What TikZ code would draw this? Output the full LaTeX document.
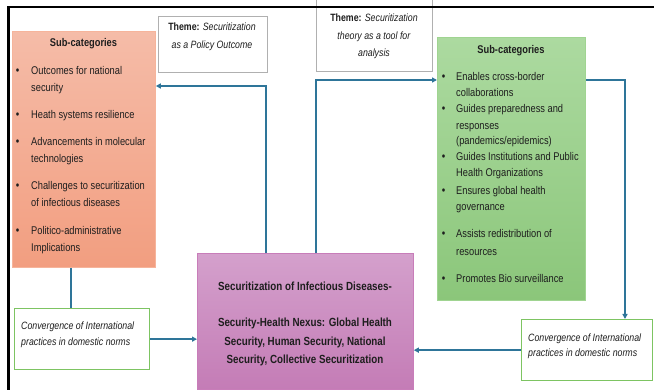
\documentclass[tikz,border=0pt]{standalone}
\usepackage{fontspec}
\setmainfont{Liberation Sans}[FakeStretch=0.83]
\usetikzlibrary{arrows.meta}
\definecolor{linkc}{RGB}{46,117,153}
\definecolor{orT}{RGB}{245,188,168}
\definecolor{orB}{RGB}{242,158,128}
\definecolor{orD}{RGB}{246,180,155}
\definecolor{grT}{RGB}{172,218,160}
\definecolor{grB}{RGB}{139,198,122}
\definecolor{grD}{RGB}{160,212,145}
\definecolor{puT}{RGB}{212,160,204}
\definecolor{puB}{RGB}{196,124,182}
\definecolor{puD}{RGB}{200,125,185}
\definecolor{cvD}{RGB}{125,196,98}
\definecolor{thD}{RGB}{176,176,176}
\definecolor{txt}{RGB}{30,30,30}
\tikzset{
  boxbase/.style={rectangle, anchor=north west, inner sep=0pt},
  orbox/.style={boxbase, draw=orD, line width=0.8pt, top color=orT, bottom color=orB},
  grbox/.style={boxbase, draw=grD, line width=0.8pt, top color=grT, bottom color=grB},
  pubox/.style={boxbase, draw=puD, line width=0.8pt, top color=puT, bottom color=puB},
  cvbox/.style={boxbase, draw=cvD, line width=1.3pt, fill=white},
  thbox/.style={boxbase, draw=thD, line width=1.2pt, fill=white},
  tx/.style={inner sep=0pt, anchor=base west, text=txt, font=\fontsize{11.2}{13}\selectfont},
  ttl/.style={inner sep=0pt, anchor=base, text=txt, font=\fontsize{11.2}{13}\selectfont\bfseries},
  bul/.style={inner sep=0pt, anchor=base, text=txt, font=\fontsize{12}{14}\selectfont},
  thx/.style={inner sep=0pt, anchor=base, text=txt, font=\fontsize{10.6}{12}\selectfont},
  cvx/.style={inner sep=0pt, anchor=base west, text=txt, font=\fontsize{10.6}{12}\selectfont\itshape},
  pux/.style={inner sep=0pt, anchor=base, text=txt, font=\fontsize{11.8}{14}\selectfont\bfseries},
  link/.style={draw=linkc, line width=1.5pt},
  arr/.style={link, -{Triangle[length=5pt,width=5pt]}}
}
\begin{document}
\begin{tikzpicture}[x=1pt,y=-1pt]
\useasboundingbox (0,0) rectangle (654,390);
\fill[white] (0,0) rectangle (654,390);

% boxes
\node[thbox, minimum width=109pt, minimum height=56pt] (th1) at (158,16) {};
\node[thbox, minimum width=116pt, minimum height=76pt] (th2) at (316,-5) {};
\node[orbox, minimum width=143pt, minimum height=236pt] (orange) at (12,31) {};
\node[grbox, minimum width=148pt, minimum height=263pt] (green) at (437,37) {};
\node[pubox, minimum width=216pt, minimum height=136pt] (purple) at (197,253) {};
\node[cvbox, minimum width=135pt, minimum height=61pt] (conv1) at (14,308) {};
\node[cvbox, minimum width=131pt, minimum height=61pt] (conv2) at (521,319) {};

% frame
\draw[black, line width=2.5pt] (8.5,390) -- (8.5,7) -- (654,7);

% theme texts
\node[thx] (th1a) at (212,31) {\textbf{Theme:} \textit{Securitization}};
\node[thx] (th1b) at (212,49) {\textit{as a Policy Outcome}};
\node[thx] (th2a) at (374,22) {\textbf{Theme:} \textit{Securitization}};
\node[thx] (th2b) at (374,40) {\textit{theory as a tool for}};
\node[thx] (th2c) at (374,57) {\textit{analysis}};

% orange texts
\node[ttl] (ot) at (83.5,47) {Sub-categories};
\foreach \yy/\tt [count=\i] in {75/{Outcomes for national},92/{security},119/{Heath systems resilience},146/{Advancements in molecular},163/{technologies},190/{Challenges to securitization},207/{of infectious diseases},235/{Politico-administrative},252/{Implications}}
  \node[tx] (ol\i) at (31,\yy) {\tt};
\foreach \yy [count=\i] in {75,119,146,190,235}
  \node[bul] (ob\i) at (17.5,\yy) {\textbullet};

% green texts
\node[ttl] (gt) at (511,54) {Sub-categories};
\foreach \yy/\tt [count=\i] in {81/{Enables cross-border},97/{collaborations},113/{Guides preparedness and},130/{responses},145/{(pandemics/epidemics)},161/{Guides Institutions and Public},177/{Health Organizations},195/{Ensures global health},211/{governance},238/{Assists redistribution of},256/{resources},283/{Promotes Bio surveillance}}
  \node[tx] (gl\i) at (456,\yy) {\tt};
\foreach \yy [count=\i] in {81,113,161,195,238,283}
  \node[bul] (gb\i) at (443.5,\yy) {\textbullet};

% purple texts
\node[pux] (p1) at (305,290.5) {Securitization of Infectious Diseases-};
\node[pux] (p2) at (305,326.5) {Security-Health Nexus: Global Health};
\node[pux] (p3) at (305,346) {Security, Human Security, National};
\node[pux] (p4) at (305,363.5) {Security, Collective Securitization};

% convergence texts
\node[cvx] (c1a) at (21,330) {Convergence of International};
\node[cvx] (c1b) at (21,345) {practices in domestic norms};
\node[cvx] (c2a) at (528,341.5) {Convergence of International};
\node[cvx] (c2b) at (528,356.5) {practices in domestic norms};

% connectors
\coordinate (pa) at ([xshift=69pt]purple.north west);
\coordinate (pb) at ([xshift=119pt]purple.north west);
\coordinate (oin) at ([yshift=-55pt]orange.north east);
\coordinate (gin) at ([yshift=-43pt]green.north west);
\coordinate (gout) at ([yshift=-43pt]green.north east);
\coordinate (cin) at ([xshift=104pt]conv2.north west);
\coordinate (odn) at ([xshift=59pt]orange.south west);
\draw[arr] (pa) |- (oin);
\draw[arr] (pb) |- (gin);
\draw[arr] (gout) -| (cin);
\draw[link] (odn) -- (odn |- conv1.north);
\draw[arr] (conv1.east) -- (conv1.east -| purple.west);
\draw[arr] (conv2.west) -- (conv2.west -| purple.east);
\end{tikzpicture}
\end{document}
